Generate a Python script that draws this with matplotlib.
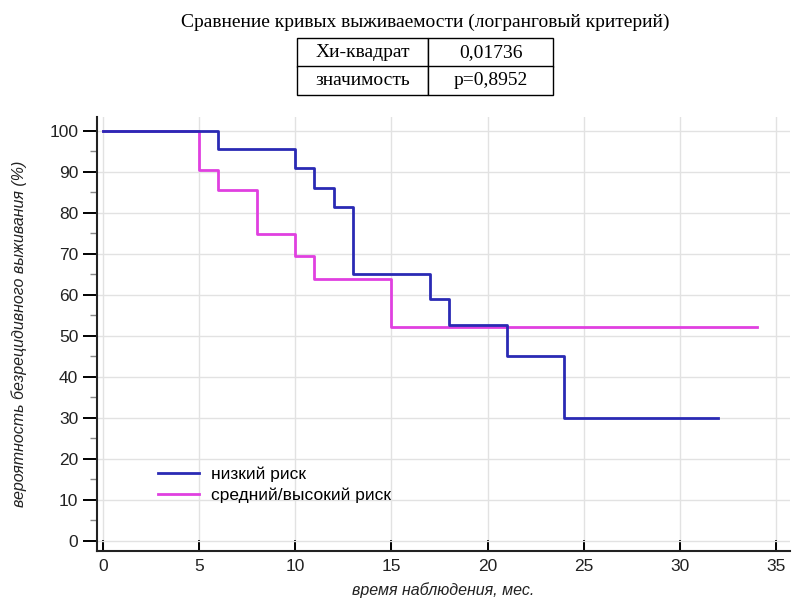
import matplotlib
matplotlib.use("Agg")
import matplotlib.pyplot as plt
from matplotlib.ticker import MultipleLocator

# Data (Kaplan-Meier step curves)
low_t = [0, 6, 10, 11, 12, 13, 17, 18, 21, 24, 32]
low_s = [100, 95.7, 91.0, 86.2, 81.4, 65.1, 59.1, 52.6, 45.0, 30.0, 30.0]
mid_t = [0, 5, 6, 8, 10, 11, 15, 34]
mid_s = [100, 90.4, 85.5, 74.8, 69.4, 64.0, 52.3, 52.3]

labels = ["низкий риск", "средний/высокий риск"]
colors = ["#2a2ab4", "#e040e0"]

title = "Сравнение кривых выживаемости (логранговый критерий)"
table_rows = [["Хи-квадрат", "0,01736"], ["значимость", "p=0,8952"]]

sans = ["Liberation Sans", "DejaVu Sans"]
serif = ["Liberation Serif", "DejaVu Serif"]

fig = plt.figure(figsize=(7.93, 6.01), dpi=100)
W, H = 793, 601
ax = fig.add_axes([97 / W, 1 - 551 / H, (790 - 97) / W, (551 - 117) / H])

ax.step(mid_t, mid_s, where="post", color=colors[1], lw=2.0, label=labels[1], zorder=3)
ax.step(low_t, low_s, where="post", color=colors[0], lw=2.0, label=labels[0], zorder=4)

ax.set_xlim(-0.31, 35.73)
ax.set_ylim(-2.44, 103.4)
ax.xaxis.set_major_locator(MultipleLocator(5))
ax.yaxis.set_major_locator(MultipleLocator(10))
ax.yaxis.set_minor_locator(MultipleLocator(5))
ax.grid(True, which="major", color="#e2e2e2", lw=1.0, zorder=0)
for s in ["top", "right"]:
    ax.spines[s].set_visible(False)
for s in ["left", "bottom"]:
    ax.spines[s].set_linewidth(1.5)
    ax.spines[s].set_color("#222222")
ax.tick_params(axis="x", direction="in", length=8, width=1.4, labelsize=12.5, pad=6)
ax.tick_params(axis="y", which="major", direction="out", length=10, width=1.4, labelsize=12.5)
ax.tick_params(axis="y", which="minor", direction="out", length=5, width=1.0, color="#888888")
for lab in ax.get_xticklabels() + ax.get_yticklabels():
    lab.set_fontfamily(sans)
    lab.set_color("#222222")

ax.set_xlabel("время наблюдения, мес.", fontsize=11.5, style="italic", family=sans, color="#222222", labelpad=6)
ax.set_ylabel("вероятность безрецидивного выживания (%)", fontsize=11.5, style="italic", family=sans, color="#222222", labelpad=16)

handles, labs = ax.get_legend_handles_labels()
order = [labs.index(l) for l in labels]
leg = ax.legend([handles[i] for i in order], [labs[i] for i in order],
                loc="lower left", bbox_to_anchor=(0.065, 0.075), frameon=False,
                prop={"family": sans, "size": 12.5}, handlelength=2.4,
                labelspacing=0.3, handletextpad=0.7)

fig.text(425 / W, 1 - 22 / H, title, ha="center", va="center", family=serif, fontsize=14)

tax = fig.add_axes([297 / W, 1 - 95 / H, (553 - 297) / W, (95 - 38) / H])
tax.axis("off")
tbl = tax.table(cellText=table_rows, bbox=[0, 0, 1, 1], cellLoc="center",
                colWidths=[(428 - 297) / 256, (553 - 428) / 256])
tbl.auto_set_font_size(False)
for (r, c), cell in tbl.get_celld().items():
    cell.set_linewidth(1.0)
    cell.get_text().set_fontfamily(serif)
    cell.get_text().set_fontsize(14)

fig.savefig("out.png", dpi=100)
